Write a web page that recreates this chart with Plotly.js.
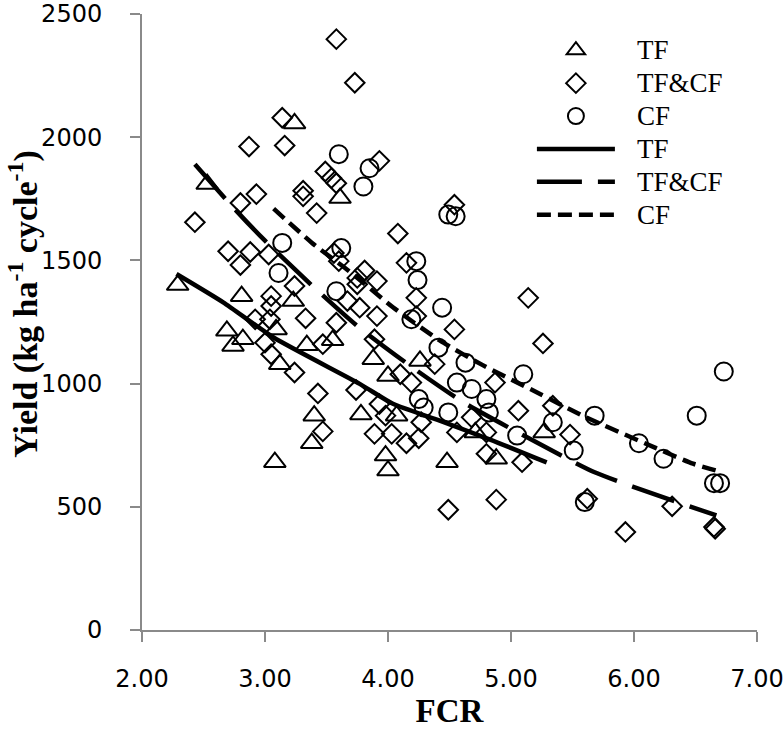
<!DOCTYPE html>
<html>
<head>
<meta charset="utf-8">
<script src="https://cdn.plot.ly/plotly-3.0.1.min.js"></script>
<style>
  html, body { margin: 0; padding: 0; background: #fff; }
  #chart { width: 784px; height: 732px; }
</style>
</head>
<body>
<div id="chart"></div>
<script>
// ---- Data ----
// TF (triangles)
var tfX = [2.29, 2.53, 2.69, 2.74, 2.82, 2.81, 3.09, 3.12, 3.08, 3.23, 3.24, 3.34, 3.38, 3.40, 3.55, 3.61, 3.78, 3.88, 4.00, 3.98, 4.00, 4.07, 4.26, 4.48, 4.71, 4.88, 5.27];
var tfY = [1400, 1810, 1214, 1153, 1180, 1355, 1220, 1079, 681, 1335, 2056, 1156, 758, 870, 1176, 1753, 875, 1099, 1031, 708, 647, 870, 1092, 681, 802, 695, 802];

// TF&CF (diamonds)
var tcX = [2.43, 2.70, 2.80, 2.80, 2.87, 2.88, 2.93, 2.92, 3.00, 3.03, 3.04, 3.05, 3.05, 3.05, 3.14, 3.16, 3.24, 3.24, 3.31, 3.31, 3.33, 3.42, 3.43, 3.47, 3.47, 3.49, 3.54, 3.58, 3.56, 3.60, 3.58, 3.58, 3.67, 3.73, 3.74, 3.75, 3.75, 3.77, 3.81, 3.89, 3.89, 3.91, 3.91, 3.93, 3.93, 3.98, 4.03, 4.08, 4.10, 4.15, 4.15, 4.19, 4.23, 4.23, 4.25, 4.27, 4.38, 4.49, 4.54, 4.54, 4.56, 4.68, 4.80, 4.80, 4.87, 4.88, 5.06, 5.09, 5.14, 5.26, 5.34, 5.48, 5.62, 5.93, 6.31, 6.65, 6.66];
var tcY = [1655, 1537, 1733, 1481, 1962, 1534, 1769, 1261, 1166, 1524, 1261, 1355, 1315, 1119, 2079, 1966, 1396, 1045, 1783, 1760, 1265, 1692, 960, 1160, 806, 1861, 1834, 1813, 1530, 1497, 1247, 2398, 1335, 2221, 974, 1429, 1403, 1308, 1459, 1180, 796, 1416, 1274, 1904, 917, 870, 796, 1609, 1038, 1490, 758, 1004, 1348, 1274, 778, 843, 1079, 488, 1726, 1220, 802, 863, 802, 715, 1004, 529, 890, 681, 1348, 1163, 910, 793, 533, 398, 502, 418, 411];

// CF (circles)
var cfX = [3.11, 3.14, 3.58, 3.60, 3.62, 3.80, 3.85, 4.19, 4.23, 4.24, 4.25, 4.29, 4.41, 4.44, 4.49, 4.55, 4.49, 4.56, 4.63, 4.68, 4.80, 4.82, 5.05, 5.10, 5.34, 5.51, 5.60, 5.68, 6.04, 6.24, 6.51, 6.65, 6.70, 6.73];
var cfY = [1449, 1571, 1375, 1931, 1550, 1800, 1874, 1261, 1497, 1420, 937, 903, 1146, 1308, 1686, 1679, 883, 1004, 1085, 978, 937, 883, 789, 1038, 843, 728, 519, 870, 758, 695, 870, 596, 596, 1049];

// Trend lines
var tfLineX = [2.28, 2.66, 3.07, 3.77, 4.04, 4.42, 4.83, 5.29];
var tfLineY = [1445, 1330, 1187, 999, 918, 850, 773, 680];
var tcLineX = [2.43, 2.76, 3.00, 3.40, 3.76, 4.20, 4.61, 5.10, 5.68, 6.31, 6.67];
var tcLineY = [1890, 1705, 1580, 1390, 1230, 1065, 925, 790, 640, 526, 465];
var cfLineX = [3.07, 3.38, 3.70, 4.04, 4.42, 4.77, 5.24, 5.59, 6.18, 6.48, 6.72];
var cfLineY = [1710, 1572, 1450, 1310, 1175, 1075, 957, 868, 738, 675, 640];

var seriesNames = ['TF', 'TF&CF', 'CF'];
var xTitle = 'FCR';
var yTitle = 'Yield (kg ha<sup>-1</sup> cycle<sup>-1</sup>)';

// ---- Traces ----
function legendLabel(name) {
  // bigger visible text inside a legend row sized by the smaller legend font
  return '<span style="font-size:34px">\u00a0\u00a0</span><span style="font-size:27px">' + name + '</span>';
}
function markerTrace(x, y, name, symbol, size) {
  return {
    type: 'scatter', mode: 'markers', x: x, y: y, name: legendLabel(name),
    marker: { symbol: symbol, size: size, color: '#000', line: { width: 2, color: '#000' } },
    hoverinfo: 'x+y'
  };
}
function lineTrace(x, y, name, dash) {
  return {
    type: 'scatter', mode: 'lines', x: x, y: y, name: legendLabel(name),
    xaxis: 'x2', yaxis: 'y2',
    line: { color: '#000', width: 4.5, dash: dash, shape: 'spline', smoothing: 0.6 },
    hoverinfo: 'skip'
  };
}

var data = [
  markerTrace(tfX, tfY, seriesNames[0], 'triangle-up-open', 19),
  markerTrace(tcX, tcY, seriesNames[1], 'diamond-open', 15),
  markerTrace(cfX, cfY, seriesNames[2], 'circle-open', 18),
  lineTrace(tfLineX, tfLineY, seriesNames[0], 'solid'),
  lineTrace(tcLineX, tcLineY, seriesNames[1], '45px,16px'),
  lineTrace(cfLineX, cfLineY, seriesNames[2], '14px,7px')
];

var axisColor = '#8a8a8a';
var tickFont = { family: 'DejaVu Sans, Verdana, sans-serif', size: 24, color: '#000' };
var titleFont = { family: 'Liberation Serif, Times New Roman, serif', size: 33, color: '#000' };

var layout = {
  width: 784, height: 732,
  margin: { l: 142, r: 27, t: 14, b: 102, pad: 0 },
  paper_bgcolor: '#fff', plot_bgcolor: '#fff',
  showlegend: true,
  legend: {
    x: 0.634, y: 0.976, xanchor: 'left', yanchor: 'top',
    bgcolor: 'rgba(0,0,0,0)', borderwidth: 0,
    font: { family: 'Liberation Serif, Times New Roman, serif', size: 23, color: '#000' },
    itemwidth: 78, tracegroupgap: 0
  },
  // main axes: carry the tick labels (ticks transparent, long to push labels out)
  xaxis: {
    range: [2, 7], dtick: 1, tick0: 2, tickformat: '.2f',
    showgrid: false, zeroline: false,
    showline: true, linecolor: axisColor, linewidth: 2,
    ticks: 'outside', ticklen: 26, tickwidth: 1, tickcolor: 'rgba(0,0,0,0)',
    ticklabeloverflow: 'allow',
    tickfont: tickFont,
    title: { text: '<b>' + xTitle + '</b>', standoff: 6, font: titleFont }
  },
  yaxis: {
    range: [0, 2500], dtick: 500, tick0: 0,
    showgrid: false, zeroline: false,
    showline: true, linecolor: axisColor, linewidth: 2,
    ticks: 'outside', ticklen: 33, tickwidth: 1, tickcolor: 'rgba(0,0,0,0)',
    ticklabeloverflow: 'allow',
    tickfont: tickFont
  },
  // overlay axes: draw the visible short ticks
  xaxis2: {
    overlaying: 'x', anchor: 'y2', side: 'bottom',
    range: [2, 7], dtick: 1, tick0: 2,
    showgrid: false, zeroline: false, showticklabels: false,
    showline: true, linecolor: axisColor, linewidth: 2,
    ticks: 'outside', ticklen: 10, tickwidth: 2, tickcolor: axisColor
  },
  yaxis2: {
    overlaying: 'y', anchor: 'x2', side: 'left',
    range: [0, 2500], dtick: 500, tick0: 0,
    showgrid: false, zeroline: false, showticklabels: false,
    showline: true, linecolor: axisColor, linewidth: 2,
    ticks: 'outside', ticklen: 10, tickwidth: 2, tickcolor: axisColor
  },
  annotations: [{
    text: '<b>' + yTitle + '</b>', textangle: -90,
    xref: 'paper', yref: 'paper', x: -0.193, y: 0.53,
    xanchor: 'center', yanchor: 'middle', showarrow: false,
    font: { family: 'Liberation Serif, Times New Roman, serif', size: 34, color: '#000' }
  }]
};

Plotly.newPlot('chart', data, layout, { staticPlot: true });
</script>
</body>
</html>
